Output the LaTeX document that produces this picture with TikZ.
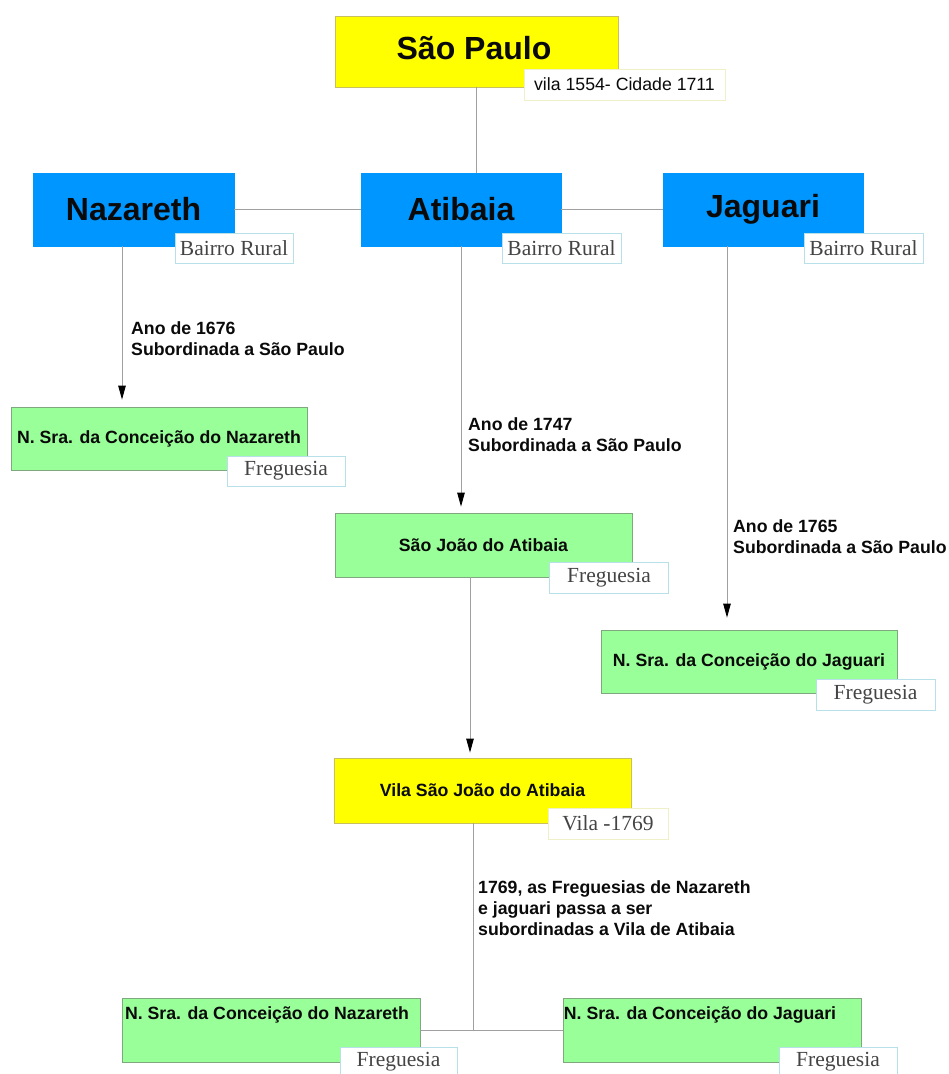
\documentclass[tikz,border=0pt]{standalone}
\usepackage{fontspec}
\setmainfont{Liberation Sans}
\newfontfamily\tagfont{Liberation Serif}
\usetikzlibrary{arrows.meta,calc}
\definecolor{cyel}{HTML}{FFFF00}
\definecolor{cyelb}{HTML}{C8C060}
\definecolor{cblue}{HTML}{0096FF}
\definecolor{cgreen}{HTML}{99FF99}
\definecolor{cgreenb}{HTML}{7FA87F}
\definecolor{ctxt}{HTML}{0A0A0A}
\definecolor{cline}{HTML}{A0A0A0}
\definecolor{ctagb}{HTML}{B8E0E8}
\definecolor{ctagy}{HTML}{F0F0C8}
\definecolor{ctagt}{HTML}{444444}
\tikzset{
  box/.style={inner sep=0pt, line width=0.8pt, text=ctxt},
  yelbox/.style={box, draw=cyelb, fill=cyel},
  bluebox/.style={box, draw=cblue, fill=cblue, minimum width=200pt, minimum height=73pt,
    font=\bfseries\fontsize{32}{38}\selectfont},
  greenbox/.style={box, draw=cgreenb, fill=cgreen, minimum width=297pt, minimum height=64pt,
    font=\bfseries\fontsize{17.7}{21}\selectfont},
  tagbox/.style={draw=ctagb, fill=white, line width=0.8pt, inner sep=0pt, minimum width=119pt,
    minimum height=30pt, text=ctagt, font=\tagfont\fontsize{21.5}{24}\selectfont},
  yeltag/.style={tagbox, draw=ctagy},
  note/.style={align=left, anchor=west, text=ctxt, inner sep=0pt,
    font=\bfseries\fontsize{17.7}{21}\selectfont},
  conn/.style={draw=cline, line width=0.9pt},
  arr/.style={conn, -{Triangle[length=14pt,width=7.5pt,color=black,fill=black]}},
}
\begin{document}
\begin{tikzpicture}[x=1pt,y=-1pt]
\useasboundingbox (0,0) rectangle (949,1074);
\clip (0,0) rectangle (949,1074);

% main boxes
\node[yelbox, minimum width=283pt, minimum height=71pt, font=\bfseries\fontsize{32}{38}\selectfont] (sp) at (476.5,51.5) {};
\node[box, font=\bfseries\fontsize{32}{38}\selectfont] (spx) at (474,48.5) {São Paulo};
\node[bluebox, minimum width=201pt] (naz) at (133.5,209.5) {Nazareth};
\node[bluebox] (at) at (461,209.5) {Atibaia};
\node[bluebox] (jag) at (763,209.5) {Jaguari};
\node[greenbox, minimum width=296pt, minimum height=63pt] (gnaz) at (159,438.5) {N. Sra. da Conceição do Nazareth};
\node[greenbox] (sj) at (483.5,545) {São João do Atibaia};
\node[greenbox, minimum width=296pt, minimum height=63pt] (gjag) at (749,661.5) {N. Sra. da Conceição do Jaguari};
\node[yelbox, minimum width=297pt, minimum height=65pt, font=\bfseries\fontsize{17.7}{21}\selectfont] (vila) at (482.5,790.5) {Vila São João do Atibaia};
\node[greenbox, minimum width=298pt] (bnaz) at (271,1030) {};
\node[box, font=\bfseries\fontsize{17.7}{21}\selectfont] (bnazt) at (267,1015) {N. Sra. da Conceição do Nazareth};
\node[greenbox, minimum width=298pt] (bjag) at (712,1030) {};
\node[box, font=\bfseries\fontsize{17.7}{21}\selectfont] (bjagt) at (700,1015) {N. Sra. da Conceição do Jaguari};

% connectors
\draw[conn] (sp.south) -- (sp.south |- at.north);
\draw[conn] (naz.east) -- (at.west);
\draw[conn] (at.east) -- (jag.west);
\draw[arr, shorten >=7pt] ([xshift=-11.5pt]naz.south) -- ([xshift=-11.5pt]naz.south |- gnaz.north);
\draw[arr, shorten >=6pt] (at.south) -- (at.south |- sj.north);
\draw[arr, shorten >=12pt] ([xshift=-36pt]jag.south) -- ([xshift=-36pt]jag.south |- gjag.north);
\draw[arr, shorten >=5pt] ([xshift=-13.5pt]sj.south) -- ([xshift=-13.5pt]sj.south |- vila.north);
\draw[conn] (bnaz.east) -- (bjag.west);
\draw[conn] ([xshift=-9.5pt]vila.south) -- ([xshift=-9.5pt]vila.south |- bnaz.east);

% tags
\node[yeltag, minimum width=201pt, minimum height=31pt, font=\fontsize{17.7}{21}\selectfont, text=ctxt] (spt) at (624.5,84.5) {vila 1554- Cidade 1711};
\node[tagbox, minimum width=118pt] (nazt) at (234,248) {Bairro Rural};
\node[tagbox] (att) at (561.5,248) {Bairro Rural};
\node[tagbox] (jagt) at (863.5,248) {Bairro Rural};
\node[tagbox, minimum width=118pt] (gnazt) at (286,471) {Freguesia};
\node[tagbox, minimum height=31pt] (sjt) at (609,577.5) {Freguesia};
\node[tagbox, minimum height=31pt] (gjagt) at (875.5,694.5) {Freguesia};
\node[yeltag, minimum width=120pt, minimum height=31pt] (vilat) at (608,823.5) {Vila -1769};
\node[tagbox, minimum width=117pt] (bnazf) at (398.5,1062) {Freguesia};
\node[tagbox, minimum width=118pt] (bjagf) at (838,1062) {Freguesia};

% notes
\node[note] (n1) at (131,338.5) {Ano de 1676\\Subordinada a São Paulo};
\node[note] (n2) at (468,435) {Ano de 1747\\Subordinada a São Paulo};
\node[note] (n3) at (733,537) {Ano de 1765\\Subordinada a São Paulo};
\node[note] (n4) at (478,908) {1769, as Freguesias de Nazareth\\e jaguari passa a ser\\subordinadas a Vila de Atibaia};
\end{tikzpicture}
\end{document}
